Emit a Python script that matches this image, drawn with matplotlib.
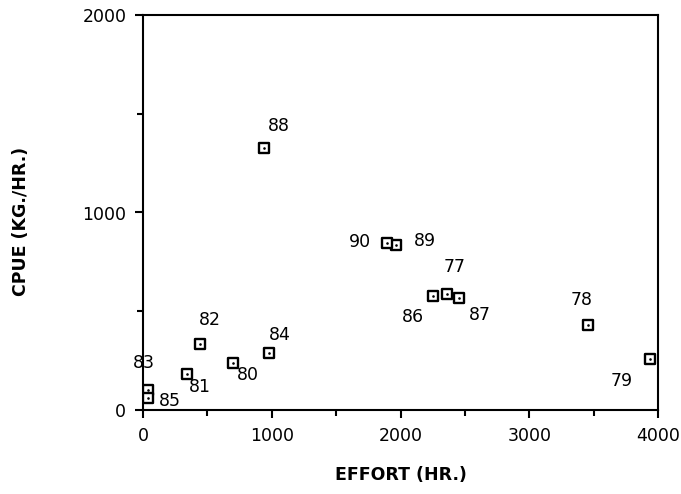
import matplotlib
matplotlib.use('Agg')
import matplotlib.pyplot as plt
from matplotlib.ticker import MultipleLocator

# year labels with effort (hr.) and cpue (kg./hr.)
YEARS = ['77', '78', '79', '80', '81', '82', '83', '84', '85', '86', '87', '88', '89', '90']
EFFORT = [2359, 3454, 3938, 697, 339, 443, 39, 981, 39, 2255, 2454, 942, 1963, 1893]
CPUE = [587, 430, 257, 236, 182, 334, 101, 287, 59, 577, 565, 1328, 835, 844]

# label offsets from each marker, in pixels (dx right, dy up)
LABEL_OFFSETS = {
    '77': (8, 27), '78': (-6, 25), '79': (-28, -22), '80': (15, -12),
    '81': (13, -13), '82': (10, 24), '83': (-4, 27), '84': (11, 18),
    '85': (22, -3), '86': (-20, -21), '87': (21, -17), '88': (15, 22),
    '89': (29, 4), '90': (-27, 1),
}

FONT_SIZE = 12.5
plt.rcParams['font.family'] = 'DejaVu Sans'
plt.rcParams['font.size'] = FONT_SIZE

fig = plt.figure(figsize=(6.81, 4.94), dpi=100)
ax = fig.add_axes([143 / 681, 84 / 494, 515 / 681, 395 / 494])

ax.scatter(EFFORT, CPUE, marker='s', s=50, facecolor='white', edgecolor='black', linewidth=1.7, zorder=3)
ax.scatter(EFFORT, CPUE, marker='.', s=3, color='black', zorder=4)

px = 72.0 / fig.dpi
for yr, x, y in zip(YEARS, EFFORT, CPUE):
    dx, dy = LABEL_OFFSETS[yr]
    ax.annotate(yr, (x, y), xytext=(dx * px, dy * px), textcoords='offset points',
                ha='center', va='center', fontsize=FONT_SIZE)

ax.set_xlim(0, 4000)
ax.set_ylim(0, 2000)
ax.xaxis.set_major_locator(MultipleLocator(1000))
ax.xaxis.set_minor_locator(MultipleLocator(500))
ax.yaxis.set_major_locator(MultipleLocator(1000))
ax.yaxis.set_minor_locator(MultipleLocator(500))
ax.tick_params(which='major', direction='out', length=6, width=1.5, pad=6)
ax.tick_params(which='minor', direction='out', length=4, width=1.5)
[s.set_linewidth(1.5) for s in ax.spines.values()]

ax.set_xlabel('EFFORT (HR.)', fontweight='bold', fontsize=12.5, labelpad=15)
ax.set_ylabel('CPUE (KG./HR.)', fontweight='bold', fontsize=12.5)
ax.yaxis.set_label_coords(-0.22, 0.478)

fig.savefig('out.png', dpi=100)
